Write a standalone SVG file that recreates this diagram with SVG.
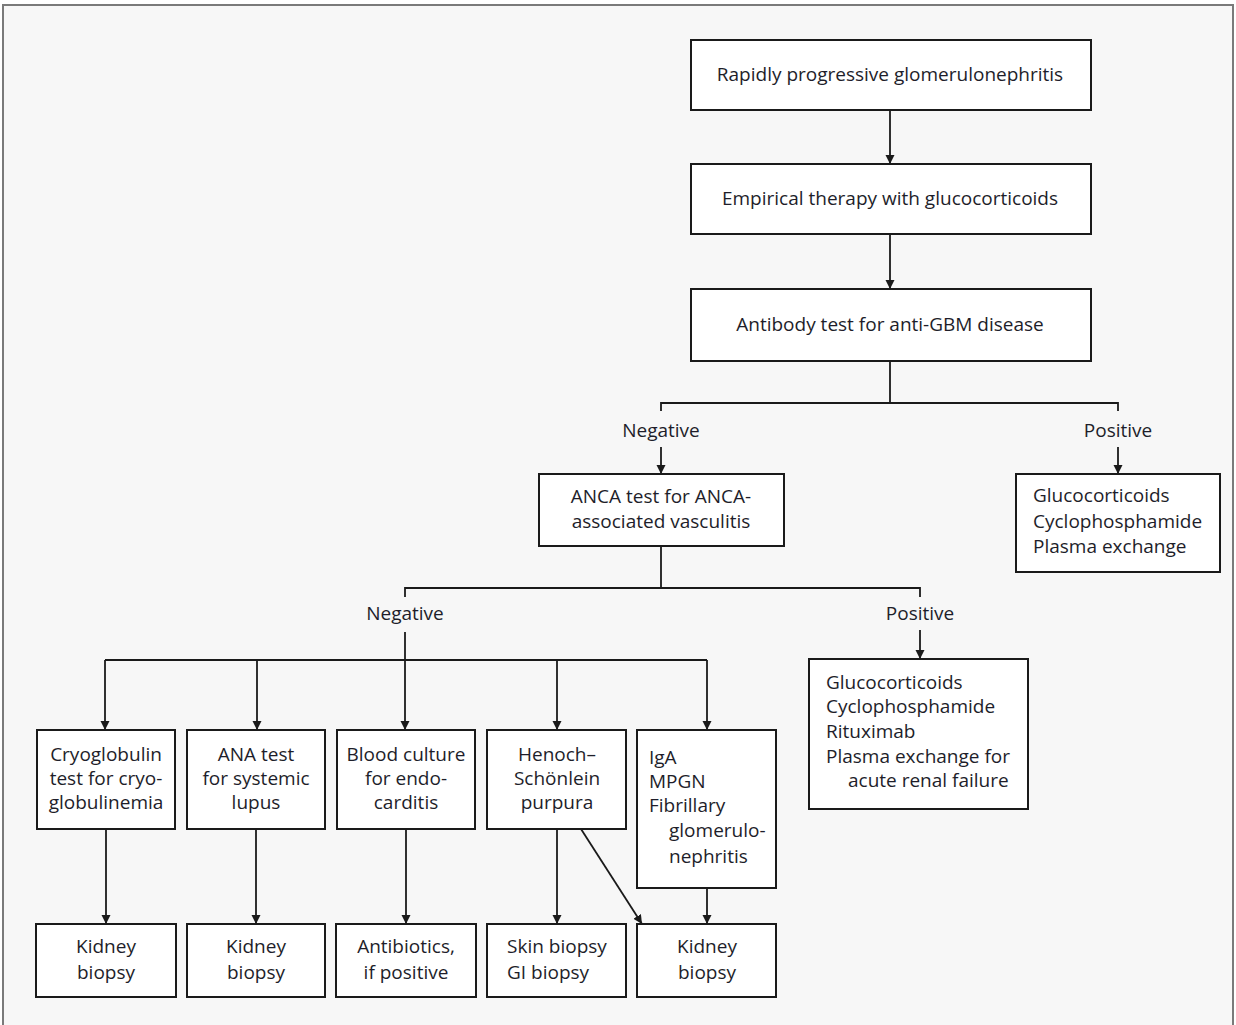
<svg xmlns="http://www.w3.org/2000/svg" width="1236" height="1025" viewBox="0 0 1236 1025">
<style>
.box{fill:#fff;stroke:#1a1a1a;stroke-width:2}
.t{font-family:"Open Sans","Liberation Sans",sans-serif;font-size:19px;fill:#1e1e2a}
.c{text-anchor:middle}
.ln{fill:none;stroke:#1a1a1a;stroke-width:1.8}
</style>
<defs>
<marker id="ah" viewBox="0 0 9 13" refX="9" refY="6.5" markerWidth="9" markerHeight="13" markerUnits="userSpaceOnUse" orient="auto">
<path d="M0,2 L9,6.5 L0,11 z" fill="#1a1a1a"/>
</marker>
</defs>
<rect x="0" y="0" width="1236" height="1025" fill="#fff"/>
<rect x="3" y="5" width="1230" height="1030" fill="#f7f7f7" stroke="#7a7a7a" stroke-width="2"/>

<g id="connectors">
<line class="ln" x1="890" y1="110" x2="890" y2="164" marker-end="url(#ah)"/>
<line class="ln" x1="890" y1="234" x2="890" y2="289" marker-end="url(#ah)"/>
<path class="ln" d="M890,361 V403 M661,411 V403 H1118 V411"/>
<line class="ln" x1="661" y1="447" x2="661" y2="474" marker-end="url(#ah)"/>
<line class="ln" x1="1118" y1="447" x2="1118" y2="474" marker-end="url(#ah)"/>
<path class="ln" d="M661,546 V588 M405,597 V588 H920 V597"/>
<line class="ln" x1="920" y1="630" x2="920" y2="659" marker-end="url(#ah)"/>
<line class="ln" x1="405" y1="632" x2="405" y2="730" marker-end="url(#ah)"/>
<path class="ln" d="M105,660 H707"/>
<line class="ln" x1="105" y1="660" x2="105" y2="730" marker-end="url(#ah)"/>
<line class="ln" x1="257" y1="660" x2="257" y2="730" marker-end="url(#ah)"/>
<line class="ln" x1="557" y1="660" x2="557" y2="730" marker-end="url(#ah)"/>
<line class="ln" x1="707" y1="660" x2="707" y2="730" marker-end="url(#ah)"/>
<line class="ln" x1="106" y1="829" x2="106" y2="924" marker-end="url(#ah)"/>
<line class="ln" x1="256" y1="829" x2="256" y2="924" marker-end="url(#ah)"/>
<line class="ln" x1="406" y1="829" x2="406" y2="924" marker-end="url(#ah)"/>
<line class="ln" x1="557" y1="829" x2="557" y2="924" marker-end="url(#ah)"/>
<line class="ln" x1="707" y1="888" x2="707" y2="924" marker-end="url(#ah)"/>
<line class="ln" x1="581" y1="829" x2="642" y2="924" marker-end="url(#ah)"/>
</g>

<g id="labels">
<text class="t c" x="661" y="437">Negative</text>
<text class="t c" x="1118" y="437">Positive</text>
<text class="t c" x="405" y="620">Negative</text>
<text class="t c" x="920" y="620">Positive</text>
</g>

<g id="n-rpgn"><rect class="box" x="691" y="40" width="400" height="70"/>
<text class="t c" x="890" y="81">Rapidly progressive glomerulonephritis</text></g>
<g id="n-empirical"><rect class="box" x="691" y="164" width="400" height="70"/>
<text class="t c" x="890" y="205">Empirical therapy with glucocorticoids</text></g>
<g id="n-antigbm"><rect class="box" x="691" y="289" width="400" height="72"/>
<text class="t c" x="890" y="331">Antibody test for anti-GBM disease</text></g>

<g id="n-anca"><rect class="box" x="539" y="474" width="245" height="72"/>
<text class="t c" x="661" y="503">ANCA test for ANCA-</text>
<text class="t c" x="661" y="528">associated vasculitis</text></g>

<g id="n-gbm-tx"><rect class="box" x="1016" y="474" width="204" height="98"/>
<text class="t" x="1033" y="502">Glucocorticoids</text>
<text class="t" x="1033" y="528">Cyclophosphamide</text>
<text class="t" x="1033" y="553">Plasma exchange</text></g>

<g id="n-anca-tx"><rect class="box" x="809" y="659" width="219" height="150"/>
<text class="t" x="826" y="689">Glucocorticoids</text>
<text class="t" x="826" y="713">Cyclophosphamide</text>
<text class="t" x="826" y="738">Rituximab</text>
<text class="t" x="826" y="763">Plasma exchange for</text>
<text class="t" x="848" y="787">acute renal failure</text></g>

<g id="n-cryo"><rect class="box" x="37" y="730" width="138" height="99"/>
<text class="t c" x="106" y="761">Cryoglobulin</text>
<text class="t c" x="106" y="785">test for cryo-</text>
<text class="t c" x="106" y="809">globulinemia</text></g>
<g id="n-ana"><rect class="box" x="187" y="730" width="138" height="99"/>
<text class="t c" x="256" y="761">ANA test</text>
<text class="t c" x="256" y="785">for systemic</text>
<text class="t c" x="256" y="809">lupus</text></g>
<g id="n-blood"><rect class="box" x="337" y="730" width="138" height="99"/>
<text class="t c" x="406" y="761">Blood culture</text>
<text class="t c" x="406" y="785">for endo-</text>
<text class="t c" x="406" y="809">carditis</text></g>
<g id="n-hsp"><rect class="box" x="487" y="730" width="139" height="99"/>
<text class="t c" x="557" y="761">Henoch–</text>
<text class="t c" x="557" y="785">Schönlein</text>
<text class="t c" x="557" y="809">purpura</text></g>
<g id="n-iga"><rect class="box" x="637" y="730" width="139" height="158"/>
<text class="t" x="649" y="764">IgA</text>
<text class="t" x="649" y="788">MPGN</text>
<text class="t" x="649" y="812">Fibrillary</text>
<text class="t" x="669" y="837">glomerulo-</text>
<text class="t" x="669" y="863">nephritis</text></g>

<g id="n-kb1"><rect class="box" x="36" y="924" width="140" height="73"/>
<text class="t c" x="106" y="953">Kidney</text>
<text class="t c" x="106" y="979">biopsy</text></g>
<g id="n-kb2"><rect class="box" x="187" y="924" width="138" height="73"/>
<text class="t c" x="256" y="953">Kidney</text>
<text class="t c" x="256" y="979">biopsy</text></g>
<g id="n-abx"><rect class="box" x="336" y="924" width="140" height="73"/>
<text class="t c" x="406" y="953">Antibiotics,</text>
<text class="t c" x="406" y="979">if positive</text></g>
<g id="n-skin"><rect class="box" x="487" y="924" width="139" height="73"/>
<text class="t" x="507" y="953">Skin biopsy</text>
<text class="t" x="507" y="979">GI biopsy</text></g>
<g id="n-kb3"><rect class="box" x="637" y="924" width="139" height="73"/>
<text class="t c" x="707" y="953">Kidney</text>
<text class="t c" x="707" y="979">biopsy</text></g>
</svg>
